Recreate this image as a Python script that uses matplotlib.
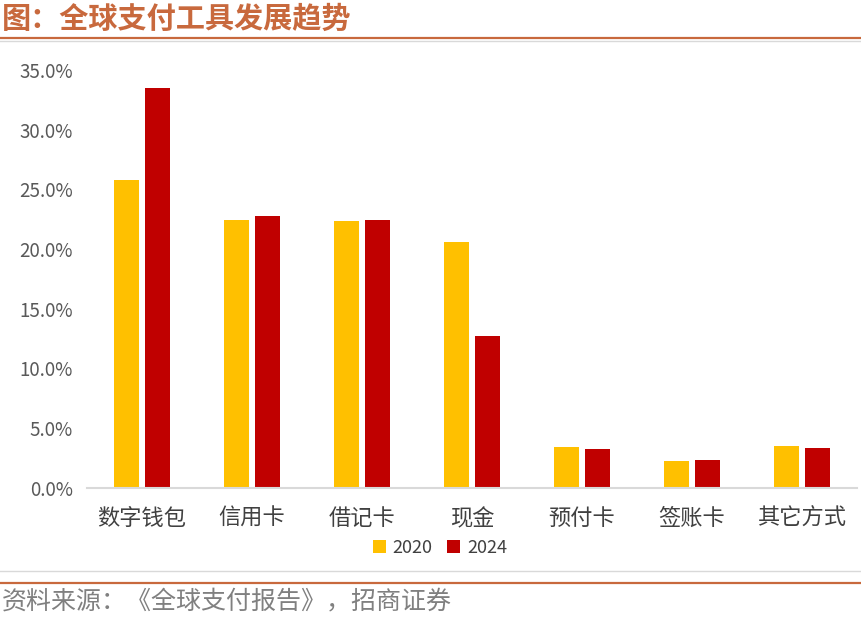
import matplotlib
matplotlib.use("Agg")
import matplotlib.pyplot as plt
import numpy as np
from matplotlib.lines import Line2D
from matplotlib.ticker import FuncFormatter

plt.rcParams["font.family"] = ["Noto Sans CJK SC", "DejaVu Sans"]

categories = ["数字钱包", "信用卡", "借记卡", "现金", "预付卡", "签账卡", "其它方式"]
share_2020 = [25.8, 22.4, 22.3, 20.6, 3.4, 2.2, 3.5]
share_2024 = [33.5, 22.8, 22.4, 12.7, 3.2, 2.3, 3.3]
series_labels = ["2020", "2024"]
colors = ["#FFC000", "#C00000"]

W, H = 861, 617
fig = plt.figure(figsize=(W / 100, H / 100), dpi=100)
fig.patch.set_facecolor("white")

ax = fig.add_axes([87 / W, (H - 487.5) / H, (857 - 87) / W, (487.5 - 70) / H])

x = np.arange(len(categories))
bw = 0.227
ax.bar(x - 0.14, share_2020, bw, color=colors[0], label=series_labels[0])
ax.bar(x + 0.14, share_2024, bw, color=colors[1], label=series_labels[1])

ax.set_xlim(-0.5, len(categories) - 0.5)
ax.set_ylim(0, 35)
ax.set_yticks(np.arange(0, 36, 5))
ax.yaxis.set_major_formatter(FuncFormatter(lambda v, p: f"{v:.1f}%"))
ax.set_xticks(x)
ax.set_xticklabels(categories, fontsize=16, color="#404040")
ax.tick_params(axis="y", length=0, labelsize=13.5, labelcolor="#595959", pad=10)
ax.tick_params(axis="x", length=0, pad=14)
for s in ["top", "right", "left"]:
    ax.spines[s].set_visible(False)
ax.spines["bottom"].set_color("#d9d9d9")
ax.spines["bottom"].set_linewidth(1.5)

ax.legend(loc="center", bbox_to_anchor=(440 / W, 1 - 548 / H), bbox_transform=fig.transFigure,
          ncol=2, frameon=False, fontsize=13, handlelength=0.7, handleheight=0.7,
          handletextpad=0.4, columnspacing=0.8, labelcolor="#404040")

# title and rules
fig.text(2 / W, 1 - 19 / H, "图：全球支付工具发展趋势", fontsize=21, fontweight="bold",
         color="#C8693D", ha="left", va="center")
fig.add_artist(Line2D([0, 1], [1 - 37.5 / H] * 2, color="#C8693D", lw=1.6))
fig.add_artist(Line2D([0, 1], [1 - 40.5 / H] * 2, color="#d9d9d9", lw=1.0))
fig.add_artist(Line2D([0, 1], [1 - 571 / H] * 2, color="#d9d9d9", lw=1.0))
fig.add_artist(Line2D([0, 1], [1 - 583 / H] * 2, color="#C8693D", lw=1.6))
fig.text(2 / W, 1 - 601 / H, "资料来源：《全球支付报告》，招商证券", fontsize=18,
         color="#808080", ha="left", va="center")

fig.savefig("out.png", dpi=100)
